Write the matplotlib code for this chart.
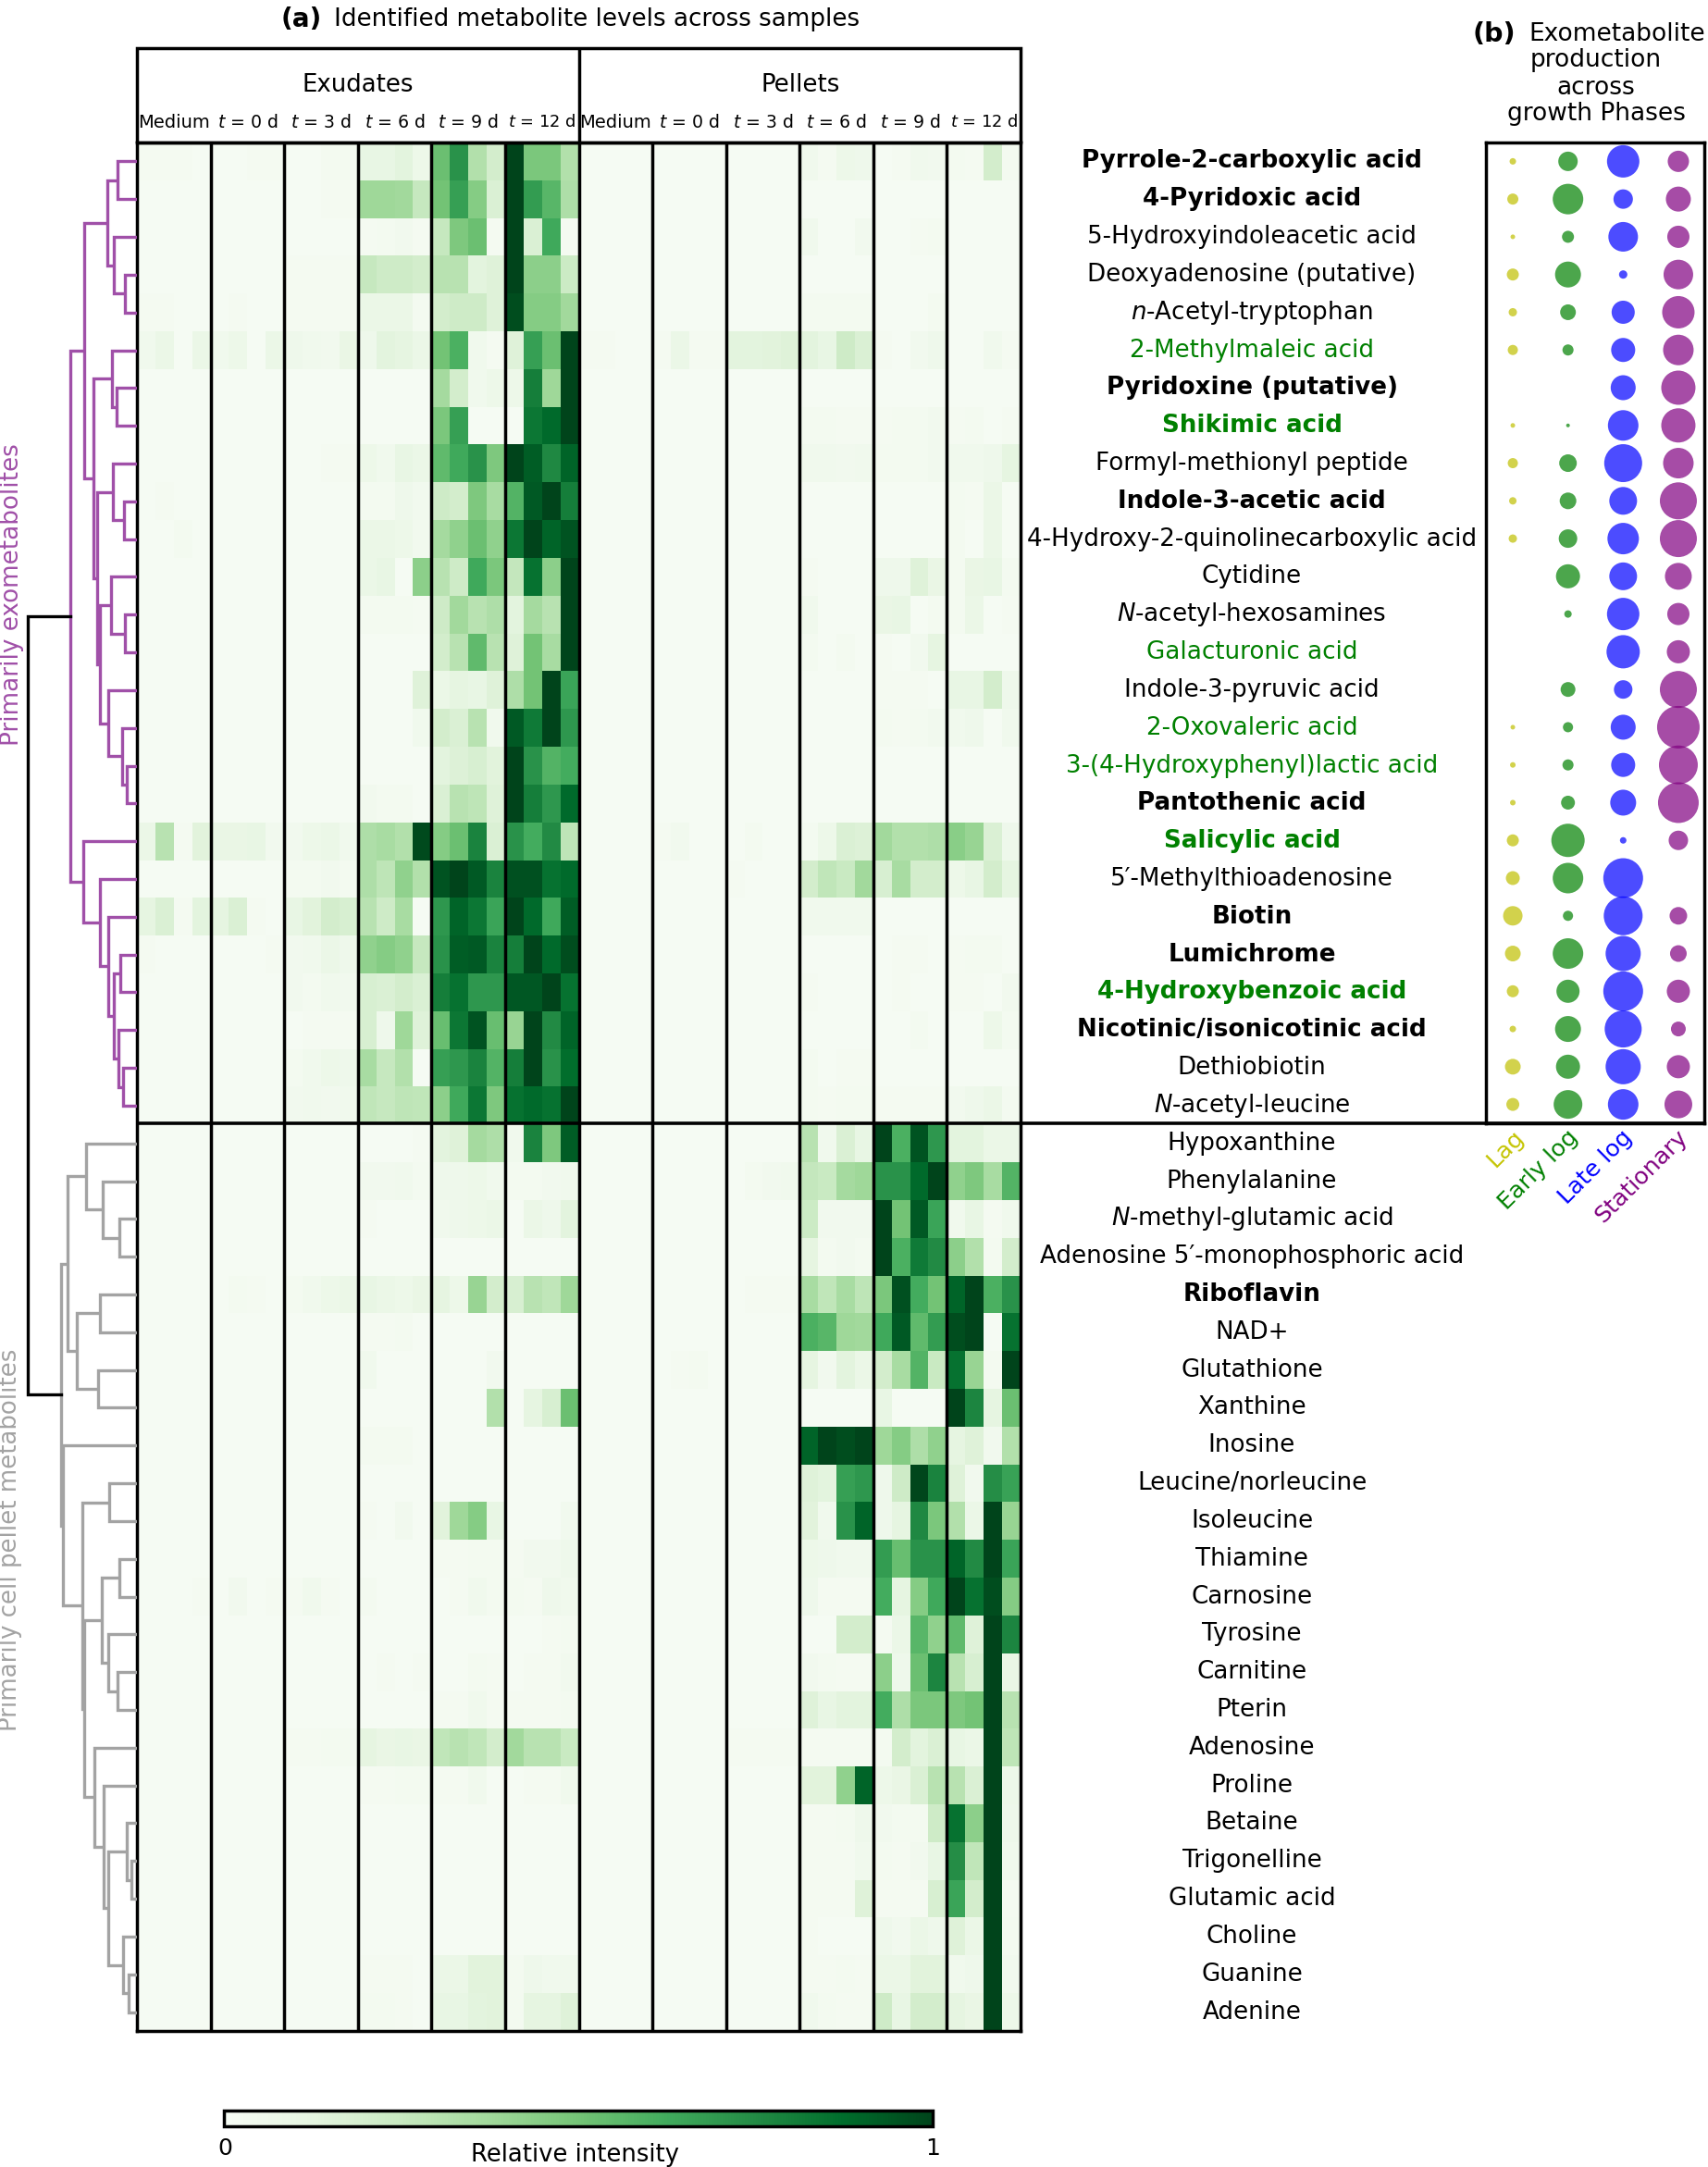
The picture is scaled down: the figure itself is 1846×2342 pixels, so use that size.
import matplotlib
matplotlib.use("Agg")
import matplotlib.pyplot as plt
import numpy as np
from matplotlib.cm import ScalarMappable
from matplotlib.colors import Normalize

plt.rcParams['font.family'] = ['DejaVu Sans']
plt.rcParams['mathtext.default'] = 'regular'

METABOLITES = [
 r"Pyrrole-2-carboxylic acid", r"4-Pyridoxic acid", r"5-Hydroxyindoleacetic acid", r"Deoxyadenosine (putative)",
 r"$\mathit{n}$-Acetyl-tryptophan", r"2-Methylmaleic acid", r"Pyridoxine (putative)", r"Shikimic acid",
 r"Formyl-methionyl peptide", r"Indole-3-acetic acid", r"4-Hydroxy-2-quinolinecarboxylic acid", r"Cytidine",
 r"$\mathit{N}$-acetyl-hexosamines", r"Galacturonic acid", r"Indole-3-pyruvic acid", r"2-Oxovaleric acid",
 r"3-(4-Hydroxyphenyl)lactic acid", r"Pantothenic acid", r"Salicylic acid", "5\u2032-Methylthioadenosine",
 r"Biotin", r"Lumichrome", r"4-Hydroxybenzoic acid", r"Nicotinic/isonicotinic acid", r"Dethiobiotin",
 r"$\mathit{N}$-acetyl-leucine", r"Hypoxanthine", r"Phenylalanine", r"$\mathit{N}$-methyl-glutamic acid",
 "Adenosine 5\u2032-monophosphoric acid", r"Riboflavin", r"NAD+", r"Glutathione", r"Xanthine", r"Inosine",
 r"Leucine/norleucine", r"Isoleucine", r"Thiamine", r"Carnosine", r"Tyrosine", r"Carnitine", r"Pterin",
 r"Adenosine", r"Proline", r"Betaine", r"Trigonelline", r"Glutamic acid", r"Choline", r"Guanine", r"Adenine"]
BOLD_ROWS = [0, 1, 6, 7, 9, 17, 18, 20, 21, 22, 23, 30]
GREEN_ROWS = [5, 7, 13, 15, 16, 18, 22]
GROUPS = ["Medium", r"$\mathit{t}$ = 0 d", r"$\mathit{t}$ = 3 d", r"$\mathit{t}$ = 6 d", r"$\mathit{t}$ = 9 d", r"$\mathit{t}$ = 12 d"]

# values in percent of relative intensity, one row per metabolite, four replicates per group
EXU_MEDIUM = [[2,2,2,1],[1,1,1,1],[1,1,1,1],[1,1,1,1],[2,2,1,1],[5,8,1,8],[1,1,1,1],[1,1,1,1],[1,1,1,1],[1,2,1,1],
 [1,1,3,1],[1,1,1,1],[1,1,1,1],[1,1,1,1],[1,1,1,1],[1,1,1,1],[1,1,1,1],[1,1,1,1],[8,30,2,14],[1,1,1,1],
 [12,17,2,13],[2,1,1,1],[1,1,1,1],[1,1,1,1],[1,1,1,1],[1,1,1,1],[1,1,1,1],[1,1,1,1],[1,1,1,1],[1,1,1,1],
 [1,1,1,1],[1,1,1,1],[1,1,1,1],[1,1,1,1],[1,1,1,1],[1,1,1,1],[1,1,1,1],[1,1,1,1],[1,1,1,2],[1,1,1,1],
 [1,1,1,1],[1,1,1,1],[1,1,1,1],[1,1,1,1],[1,1,1,1],[1,1,1,1],[1,1,1,1],[1,1,1,1],[1,1,1,1],[1,1,1,1]]
EXU_T0 = [[1,1,2,2],[1,1,1,1],[1,1,1,1],[1,1,1,1],[1,2,1,1],[5,7,1,8],[1,1,1,1],[1,1,1,1],[1,1,1,1],[1,1,1,1],
 [1,1,1,1],[1,1,1,1],[1,1,1,1],[1,1,1,1],[1,1,1,1],[1,1,1,1],[1,1,1,1],[1,1,1,1],[9,9,10,4],[1,1,1,1],
 [12,17,2,1],[1,1,1,2],[1,1,1,1],[1,1,1,1],[1,1,1,1],[1,1,1,1],[1,1,1,1],[1,1,1,1],[1,1,1,1],[1,1,1,1],
 [1,3,2,1],[1,1,1,1],[1,1,1,1],[1,1,1,1],[1,1,1,1],[1,1,1,1],[1,1,1,1],[1,1,1,1],[1,4,1,2],[1,1,1,1],
 [1,1,1,1],[1,1,1,1],[1,1,1,1],[1,1,1,1],[1,1,1,1],[1,1,1,1],[1,1,1,1],[1,1,1,1],[1,1,1,1],[1,1,1,1]]
EXU_T3 = [[1,1,3,3],[1,1,2,2],[1,1,1,1],[2,2,2,2],[2,2,2,2],[6,5,4,9],[1,1,1,1],[1,1,1,1],[1,1,2,2],[1,1,1,1],
 [1,1,1,1],[1,1,1,1],[1,1,1,1],[1,1,1,1],[1,1,1,1],[1,1,1,1],[1,1,1,1],[1,1,1,1],[4,7,8,5],[3,3,4,3],
 [10,14,20,18],[4,5,8,6],[4,3,5,4],[1,2,2,2],[3,5,7,6],[4,5,4,5],[1,1,1,1],[1,1,1,1],[1,1,1,1],[1,1,1,1],
 [3,5,7,8],[1,1,1,1],[1,1,1,1],[1,1,1,1],[1,1,1,1],[1,1,1,1],[1,1,1,1],[1,1,1,1],[2,5,2,1],[1,1,1,1],
 [1,1,1,1],[1,1,1,1],[2,2,3,3],[1,1,1,1],[1,1,1,1],[1,1,1,1],[1,1,1,1],[1,1,1,1],[1,1,1,1],[1,1,1,1]]
EXU_T6 = [[10,10,13,7],[38,38,37,25],[2,3,4,2],[25,22,22,20],[8,8,8,3],[6,13,12,8],[1,1,1,1],[1,1,1,1],[7,5,10,8],[3,3,6,4],
 [8,8,7,4],[8,10,1,43],[3,3,3,2],[1,1,1,1],[1,1,1,15],[1,1,1,5],[1,1,1,1],[4,3,3,1],[33,35,32,98],[33,28,42,32],
 [30,22,35,1],[42,45,42,25],[18,17,20,17],[18,6,38,15],[35,25,32,1],[27,25,28,27],[1,1,1,2],[4,4,5,3],[2,1,1,1],[1,1,1,1],
 [10,8,7,9],[2,2,3,1],[5,1,1,1],[1,1,1,1],[3,3,3,1],[1,1,1,1],[2,1,4,1],[1,1,1,1],[3,1,1,1],[1,1,1,1],
 [1,2,1,2],[1,1,1,1],[12,9,10,9],[2,2,3,3],[1,1,1,1],[1,1,1,1],[1,1,1,1],[1,1,1,1],[2,2,2,1],[3,3,2,1]]
EXU_T9 = [[52,72,32,20],[50,67,45,17],[25,47,52,2],[30,30,13,15],[20,22,22,15],[50,60,5,2],[36,20,5,7],[48,67,1,1],[55,63,72,47],[22,20,47,35],
 [36,42,52,42],[30,22,63,48],[22,37,30,33],[20,30,55,30],[8,12,10,15],[20,17,30,5],[13,16,18,14],[17,30,28,15],[45,52,78,17],[95,100,93,78],
 [70,90,83,65],[72,92,93,78],[80,85,70,70],[53,83,95,53],[67,70,78,58],[43,63,83,47],[13,15,36,33],[6,6,7,5],[5,6,7,8],[1,1,1,1],
 [12,7,40,20],[1,1,1,1],[1,1,1,4],[1,1,1,32],[1,1,1,1],[1,1,1,1],[14,38,45,10],[2,2,3,3],[1,2,5,3],[1,1,1,1],
 [1,1,3,2],[2,2,5,2],[27,30,27,20],[2,2,5,1],[1,1,1,1],[1,1,1,1],[1,1,1,1],[1,1,1,1],[8,8,14,14],[10,10,13,14]]
EXU_T12 = [[100,48,48,32],[100,68,57,33],[100,17,63,2],[100,43,43,23],[97,45,45,37],[15,67,52,100],[7,80,38,100],[1,83,88,100],[100,92,76,90],[58,93,100,80],
 [83,100,90,95],[26,85,43,100],[13,36,30,100],[15,50,35,100],[33,50,100,65],[93,82,100,70],[100,72,58,62],[100,80,70,88],[72,62,75,28],[96,96,85,88],
 [100,88,63,92],[80,100,88,97],[94,94,100,85],[40,100,75,90],[80,100,72,87],[85,88,85,100],[5,78,47,92],[3,3,4,5],[1,8,6,13],[1,1,1,1],
 [18,30,27,38],[1,1,1,1],[1,1,1,1],[1,12,18,52],[1,1,1,1],[1,1,1,1],[1,1,1,4],[2,4,4,6],[3,2,6,5],[1,1,2,3],
 [1,2,2,4],[2,2,2,3],[37,30,30,24],[1,2,2,5],[1,1,1,1],[1,1,1,1],[1,1,1,1],[1,1,1,1],[3,6,5,5],[3,12,12,15]]
PEL_MEDIUM = [[1,1,1,1],[1,1,1,1],[1,1,1,1],[1,1,1,1],[1,1,1,1],[2,2,1,1],[1,1,1,1],[1,1,1,1],[1,1,1,1],[1,1,1,1],
 [1,1,1,1],[1,1,1,1],[1,1,1,1],[1,1,1,1],[1,1,1,1],[1,1,1,1],[1,1,1,1],[1,1,1,1],[1,1,1,1],[1,1,1,1],
 [1,1,1,1],[1,1,1,1],[1,1,1,1],[1,1,1,1],[1,1,1,1],[1,1,1,1],[1,1,1,1],[1,1,1,1],[1,1,1,1],[1,1,1,1],
 [1,1,1,1],[1,1,1,1],[1,1,1,1],[1,1,1,1],[1,1,1,1],[1,1,1,1],[1,1,1,1],[1,1,1,1],[1,1,1,1],[1,1,1,1],
 [1,1,1,1],[1,1,1,1],[1,1,1,1],[1,1,1,1],[1,1,1,1],[1,1,1,1],[1,1,1,1],[1,1,1,1],[1,1,1,1],[1,1,1,1]]
PEL_T0 = [[1,1,1,1],[1,1,1,1],[1,1,1,1],[1,1,1,1],[1,1,1,1],[2,8,2,2],[1,1,1,1],[1,1,1,1],[1,1,1,1],[1,1,1,1],
 [1,1,1,1],[1,1,1,1],[1,1,1,1],[1,1,1,1],[1,1,1,1],[1,1,1,1],[1,1,1,1],[1,1,1,1],[2,4,1,1],[1,1,1,1],
 [1,1,1,1],[1,1,1,1],[1,1,1,1],[1,1,1,1],[1,1,1,1],[1,1,1,1],[1,1,1,1],[1,1,1,1],[1,1,1,1],[1,1,1,1],
 [1,1,1,1],[1,1,1,1],[1,2,3,1],[1,1,1,1],[1,1,1,1],[1,1,1,1],[1,1,1,1],[1,1,1,1],[1,1,1,1],[1,1,1,1],
 [1,1,1,1],[1,1,1,1],[1,1,1,1],[1,1,1,1],[1,1,1,1],[1,1,1,1],[1,1,1,1],[1,1,1,1],[1,1,1,1],[1,1,1,1]]
PEL_T3 = [[1,1,1,1],[1,1,1,1],[1,1,1,1],[1,1,1,1],[1,1,1,1],[13,13,14,15],[1,1,1,1],[1,1,1,1],[1,1,1,1],[1,1,1,1],
 [1,1,1,1],[1,1,1,1],[1,1,1,1],[1,1,1,1],[1,1,1,1],[1,1,1,1],[1,1,1,1],[1,1,1,1],[1,3,1,1],[2,1,1,1],
 [1,1,1,1],[1,1,1,1],[1,1,1,1],[1,1,1,1],[1,1,1,1],[1,1,1,1],[1,1,1,1],[1,3,4,5],[1,1,1,1],[1,1,1,1],
 [1,2,2,2],[1,1,1,1],[1,1,1,1],[1,1,1,1],[1,1,1,1],[1,1,1,1],[1,1,1,1],[1,1,1,1],[1,1,1,1],[1,1,1,1],
 [1,1,1,1],[1,1,1,1],[2,2,2,2],[1,1,1,1],[1,1,1,1],[1,1,1,1],[1,1,1,1],[1,1,1,1],[1,1,1,1],[1,1,1,1]]
PEL_T6 = [[5,2,7,6],[1,1,1,1],[5,1,1,4],[1,1,1,1],[3,3,3,3],[13,10,22,17],[1,1,1,1],[3,3,2,2],[5,5,4,5],[1,1,1,1],
 [1,1,1,1],[2,1,1,1],[5,1,1,1],[3,1,3,1],[1,1,1,1],[1,1,1,1],[1,1,1,1],[1,1,1,1],[3,7,17,16],[20,27,24,37],
 [5,5,5,5],[1,1,1,1],[2,1,1,1],[1,1,1,1],[3,1,2,2],[3,2,3,3],[30,5,17,10],[26,24,36,38],[23,4,4,4],[12,3,4,3],
 [35,27,35,28],[60,57,38,37],[12,4,13,8],[1,1,1,1],[90,100,97,100],[15,13,67,70],[14,5,72,90],[7,6,5,5],[6,2,2,2],[1,1,20,20],
 [4,3,2,2],[15,10,13,13],[2,2,2,2],[14,14,42,90],[2,2,3,6],[2,2,2,5],[2,2,2,15],[2,1,1,1],[2,2,3,2],[5,3,2,2]]
PEL_T9 = [[1,2,5,4],[1,1,1,1],[1,1,2,3],[1,1,1,1],[1,1,1,3],[2,1,4,6],[1,1,1,1],[2,3,3,4],[3,3,3,4],[1,1,1,1],
 [1,1,1,1],[6,6,15,9],[9,10,1,3],[2,1,4,12],[2,2,2,1],[3,2,3,4],[1,1,1,1],[1,1,1,1],[37,32,32,33],[18,35,20,20],
 [1,1,1,1],[1,2,2,1],[1,2,1,1],[1,1,3,1],[1,1,1,1],[2,2,2,2],[100,60,95,70],[72,72,88,100],[100,50,93,65],[100,60,82,75],
 [48,96,62,50],[63,93,55,68],[20,35,58,24],[10,1,1,1],[38,45,33,42],[6,22,99,78],[6,12,76,48],[68,53,72,72],[62,12,45,63],[2,8,57,42],
 [43,6,52,77],[62,33,48,48],[3,20,13,17],[7,9,17,30],[4,3,3,22],[3,2,4,10],[2,2,2,18],[6,4,8,6],[8,8,14,14],[22,10,20,20]]
PEL_T12 = [[3,2,20,3],[1,1,1,1],[1,1,1,1],[1,1,1,1],[1,1,1,1],[1,1,5,2],[1,1,1,1],[2,3,1,2],[5,5,6,12],[3,2,8,1],
 [3,1,8,1],[3,9,10,3],[3,8,1,2],[1,1,1,1],[10,10,20,6],[5,6,1,5],[1,1,1,1],[1,1,1,1],[44,40,17,6],[7,10,20,12],
 [1,1,1,1],[2,3,3,1],[2,2,1,4],[1,1,7,3],[1,1,1,1],[4,6,8,3],[13,13,8,8],[42,47,35,58],[5,10,2,5],[43,32,3,20],
 [90,100,60,72],[97,100,1,85],[85,40,3,100],[100,77,12,52],[12,15,4,32],[15,4,74,66],[32,8,100,40],[90,75,100,65],[100,85,97,45],[55,15,100,77],
 [30,18,100,9],[47,50,100,30],[10,8,100,28],[30,17,100,7],[85,43,100,6],[74,27,100,5],[65,20,100,2],[15,8,100,3],[5,6,100,4],[12,9,100,7]]

# bubble diameters per growth phase (one per exometabolite, 0 = none)
PHASES = ["Lag", "Early log", "Late log", "Stationary"]
LAG = [7,12,5,13,9,11,0,5,11,8,9,0,0,0,0,5,6,6,13,15,21,17,13,7,17,14]
EARLY = [21,33,13,28,17,12,0,4,19,18,20,26,8,0,16,11,12,15,36,33,11,33,25,28,26,31]
LATE = [35,21,32,9,25,26,27,33,41,30,34,30,35,36,20,27,26,28,7,43,42,38,43,40,38,33]
STATIONARY = [23,27,24,32,35,33,37,37,33,40,40,29,24,25,40,46,42,44,21,0,19,18,25,16,25,30]

# dendrograms: (merge height, upper child, lower child); integers are rows
TREE_TOP = (72,
  (57.4,
    (32, (21.5, 0, 1), (25, 2, (13, 3, 4))),
    (47,
      (27, 5, (22, 6, 7)),
      (43,
        (26, 8, (14, 9, 10)),
        (40.3, (28, 11, (12.7, 12, 13)), (31, 14, (16, 15, (11, 16, 17))))))),
  (58, 18, (40, 19, (31, 20, (25, (18, 21, 22), (20, 23, (15, 24, 25)))))))
TREE_BOTTOM = (82.3,
  (75.3,
    (55.3, 26, (37, 27, (19, 28, 29))),
    (65, (40, 30, 31), (42, 32, 33))),
  (80.3, 34,
    (59,
      (30, 35, 36),
      (57.3,
        (38, (19, 37, 38), (31.3, 39, (21.3, 40, 41))),
        (46, 42, (36.3, 43, (31.3, (11.3, 44, (6.3, 45, 46)), (15.3, 47, (9, 48, 49)))))))))
ROOT_HEIGHT = 118

W, H = 1846, 2342
HL, HR, HT, HB = 148, 1103, 154, 2195
PL, PR = 1606, 1842
DIV = 1214
PURPLE, GREY = '#a050a8', '#a3a3a3'
LW = 2.5

fig = plt.figure(figsize=(W/100, H/100), dpi=100)
def axpx(l, t, r, b, **kw):
    return fig.add_axes([l/W, 1-b/H, (r-l)/W, (b-t)/H], **kw)

# heat map
ax = axpx(HL, HT, HR, HB)
matrix = np.hstack([np.array(a, float) for a in (EXU_MEDIUM, EXU_T0, EXU_T3, EXU_T6, EXU_T9, EXU_T12,
                                                  PEL_MEDIUM, PEL_T0, PEL_T3, PEL_T6, PEL_T9, PEL_T12)])/100
ax.imshow(matrix, cmap='Greens', vmin=0, vmax=1, aspect='auto', interpolation='nearest',
          extent=(0, 48, 50, 0))
for g in range(1, 12):
    ax.axvline(g*4, color='k', lw=LW)
ax.set_xticks([]); ax.set_yticks([])
for s in ax.spines.values():
    s.set_linewidth(LW)

# dendrograms
dax = axpx(0, HT, HL, HB)
dax.set_xlim(HL, 0); dax.set_ylim(50, 0); dax.axis('off')
def draw(node, color):
    if isinstance(node, int):
        return 0.0, node+0.5
    h, a, b = node
    ha, ya = draw(a, color); hb, yb = draw(b, color)
    dax.plot([ha, h, h, hb], [ya, ya, yb, yb], color=color, lw=2.4, solid_joinstyle='miter', solid_capstyle='butt')
    return h, (ya+yb)/2
ht, yt = draw(TREE_TOP, PURPLE)
hb, yb = draw(TREE_BOTTOM, GREY)
dax.plot([ht, ROOT_HEIGHT, ROOT_HEIGHT, hb], [yt, yt, yb, yb], color='k', lw=2.4, solid_joinstyle='miter')

# bubbles
pax = axpx(PL, HT, PR, DIV)
pax.set_xlim(-0.487, 3.47); pax.set_ylim(26, 0)
pax.set_xticks([]); pax.set_yticks([])
for s in pax.spines.values():
    s.set_linewidth(LW)
for i, (vals, col) in enumerate(zip((LAG, EARLY, LATE, STATIONARY), ('y', 'g', 'b', 'purple'))):
    d = np.array(vals, float)
    pax.scatter(np.full(26, i), np.arange(26)+0.5, s=(d*0.72)**2, color=col, alpha=0.7,
                linewidths=0, clip_on=False)

# overlay for text and frames, in pixel units
o = fig.add_axes([0, 0, 1, 1], zorder=5)
o.set_xlim(0, W); o.set_ylim(H, 0); o.axis('off'); o.patch.set_alpha(0)
def line(xs, ys, lw=LW):
    o.plot(xs, ys, color='k', lw=lw, solid_capstyle='butt', solid_joinstyle='miter')
line([HL, HL, HR, HR], [HT, 52, 52, HT])
line([625.5, 625.5], [52, HT])
line([HL, HR], [HT, HT])
line([HL, PR], [DIV, DIV], lw=2.6)

FS = 18.8
rowh = (HB-HT)/50
for i, name in enumerate(METABOLITES):
    y = HT+(i+0.5)*rowh
    o.text(1353, y, name, ha='center', va='center', fontsize=FS,
           fontweight='bold' if i in BOLD_ROWS else 'normal',
           color='#008000' if i in GREEN_ROWS else 'k')
gw = (HR-HL)/12
for j in range(12):
    o.text(HL+(j+0.5)*gw, 132, GROUPS[j % 6], ha='center', va='center',
           fontsize=12.8 if j % 6 == 5 else 13.6 if j % 6 else 14)
o.text(387, 92, "Exudates", ha='center', va='center', fontsize=18.7)
o.text(865, 92, "Pellets", ha='center', va='center', fontsize=18.7)

o.text(304, 21, "(a)", ha='left', va='center', fontsize=20, fontweight='bold')
o.text(361, 21, "Identified metabolite levels across samples", ha='left', va='center', fontsize=18.8)
o.text(1592, 37, "(b)", ha='left', va='center', fontsize=20.5, fontweight='bold')
o.text(1652, 37, "Exometabolite", ha='left', va='center', fontsize=19)
o.text(1725, 65, "production", ha='center', va='center', fontsize=19)
o.text(1725, 95, "across", ha='center', va='center', fontsize=19)
o.text(1725, 123, "growth Phases", ha='center', va='center', fontsize=19)

o.text(13, 643, "Primarily exometabolites", rotation=90, ha='center', va='center', fontsize=18.9, color=PURPLE)
o.text(11, 1664, "Primarily cell pellet metabolites", rotation=90, ha='center', va='center', fontsize=18.7, color=GREY)

for name, x, c in zip(PHASES, (1635, 1693, 1752, 1812), ('#c4c400', 'g', 'b', 'purple')):
    o.text(x, 1217, name, rotation=45, rotation_mode='anchor', ha='right', va='top', fontsize=18.3, color=c)

# colour bar
cax = axpx(242, 2281, 1008, 2298)
cb = fig.colorbar(ScalarMappable(Normalize(0, 1), 'Greens'), cax=cax, orientation='horizontal')
cb.set_ticks([]); cb.outline.set_linewidth(LW)
o.text(243, 2322, "0", ha='center', va='center', fontsize=18)
o.text(1008, 2322, "1", ha='center', va='center', fontsize=18)
o.text(622, 2329, "Relative intensity", ha='center', va='center', fontsize=18.6)

fig.savefig("out.png", dpi=100)
